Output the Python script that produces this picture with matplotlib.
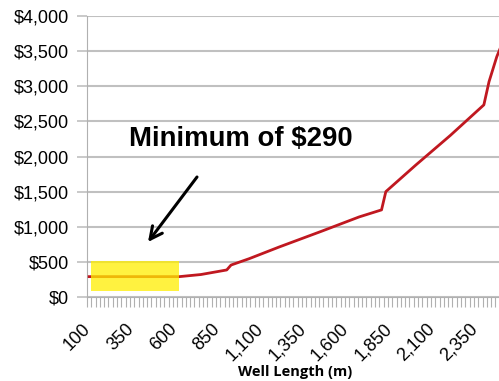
import numpy as np
import matplotlib.pyplot as plt
import matplotlib.transforms as mtransforms
from matplotlib.ticker import FuncFormatter

# well length (m) vs cost ($)
well_length = [100, 625, 750, 900, 925, 1030, 1205, 1450, 1670, 1800, 1825,
               2000, 2200, 2395, 2425, 2470, 2500]
well_cost = [290, 290, 320, 385, 455, 545, 712, 935, 1140, 1240, 1500,
             1880, 2300, 2735, 3065, 3420, 3600]

x_ticks = [100, 350, 600, 850, 1100, 1350, 1600, 1850, 2100, 2350]
y_ticks = [0, 500, 1000, 1500, 2000, 2500, 3000, 3500, 4000]

# highlighted minimum region
min_band_x = [112, 625]
min_band_y = [90, 510]
min_cost = 290

W, H = 499, 381
fig = plt.figure(figsize=(W / 100, H / 100), dpi=100)
ax = fig.add_axes([87 / W, 1 - 297 / H, 1 - 87 / W, (297 - 16) / H])

ax.plot(well_length, well_cost, color='#c01820', lw=2.0, zorder=3)
ax.fill_between(min_band_x, min_band_y[0], min_band_y[1], color='#ffee00',
                alpha=0.75, lw=0, zorder=4)

ax.set_xlim(87.5, 2483)
ax.set_ylim(0, 4000)
ax.set_yticks(y_ticks)
ax.yaxis.set_major_formatter(FuncFormatter(lambda v, p: '${:,.0f}'.format(v)))
ax.set_xticks(x_ticks)
ax.set_xticklabels(['{:,}'.format(v) for v in x_ticks], rotation=45,
                   ha='right', va='top', rotation_mode='anchor')
# minor ticks on the category boundaries (25 m steps)
ax.set_xticks(np.arange(87.5, 2483, 25), minor=True)
ax.tick_params(axis='x', which='minor', length=7, width=0.8, color='#b0b0b0')
ax.tick_params(axis='x', which='major', length=0, pad=14)
ax.tick_params(axis='y', length=7, width=1.2, color='#c0c0c0', pad=6)
shift = mtransforms.ScaledTranslation(-7 / 100, -4 / 100, fig.dpi_scale_trans)
for lab in ax.get_xticklabels():
    lab.set_transform(lab.get_transform() + shift)
for lab in ax.get_xticklabels() + ax.get_yticklabels():
    lab.set_family('Liberation Sans')
    lab.set_fontsize(13)

ax.grid(axis='y', color='#c0c0c0', lw=1.5, zorder=1)
for s in ['top', 'right']:
    ax.spines[s].set_visible(False)
ax.spines['left'].set_color('#b0b0b0')
ax.spines['bottom'].set_color('#b0b0b0')
ax.set_axisbelow(True)

fig.text(295 / W, 1 - 372 / H, 'Well Length (m)', ha='center', va='center',
         family='Open Sans', fontweight='bold', fontsize=10.5)

fig.text(241 / W, 1 - 139 / H, 'Minimum of ${}'.format(min_cost),
         ha='center', va='center', family='Liberation Sans',
         fontweight='bold', fontsize=19.8)

ax.annotate('', xy=(148 / W, 1 - 242 / H), xycoords='figure fraction',
            xytext=(197 / W, 1 - 177 / H), textcoords='figure fraction',
            arrowprops=dict(arrowstyle='->', color='black', lw=2.2,
                            mutation_scale=22, shrinkA=0, shrinkB=0))

fig.savefig('out.png', dpi=100)
